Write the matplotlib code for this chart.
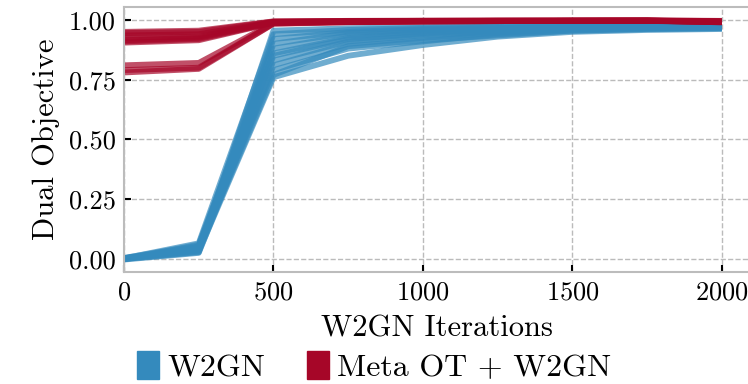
import matplotlib
matplotlib.use("Agg")
import matplotlib.pyplot as plt
from matplotlib.patches import Patch

plt.rcParams["font.family"] = "serif"
plt.rcParams["font.serif"] = ["cmr10"]
plt.rcParams["mathtext.fontset"] = "cm"
plt.rcParams["axes.formatter.use_mathtext"] = True

iters = [0, 250, 500, 750, 1000, 1250, 1500, 1750, 2000]

# dual objective of each W2GN run (one list per run)
w2gn_runs = [
    [0.000, 0.030, 0.760, 0.850, 0.895, 0.930, 0.950, 0.958, 0.962],
    [0.002, 0.040, 0.790, 0.880, 0.910, 0.940, 0.955, 0.962, 0.965],
    [-0.003, 0.025, 0.810, 0.900, 0.925, 0.945, 0.960, 0.965, 0.968],
    [0.004, 0.055, 0.830, 0.910, 0.935, 0.950, 0.962, 0.968, 0.970],
    [0.001, 0.045, 0.860, 0.925, 0.945, 0.958, 0.966, 0.970, 0.972],
    [-0.002, 0.060, 0.880, 0.935, 0.950, 0.962, 0.968, 0.972, 0.974],
    [0.003, 0.035, 0.900, 0.945, 0.958, 0.966, 0.971, 0.974, 0.976],
    [0.000, 0.050, 0.920, 0.950, 0.962, 0.969, 0.973, 0.976, 0.978],
    [0.002, 0.065, 0.940, 0.958, 0.967, 0.972, 0.975, 0.978, 0.980],
    [-0.001, 0.028, 0.955, 0.965, 0.970, 0.975, 0.978, 0.980, 0.982],
    [0.001, 0.048, 0.850, 0.920, 0.940, 0.955, 0.964, 0.968, 0.970],
    [0.000, 0.038, 0.770, 0.890, 0.915, 0.935, 0.955, 0.962, 0.966],
]

# dual objective of each Meta OT + W2GN run
meta_runs = [
    [0.905, 0.915, 0.988, 0.992, 0.994, 0.995, 0.996, 0.996, 0.993],
    [0.915, 0.925, 0.990, 0.993, 0.995, 0.996, 0.996, 0.997, 0.994],
    [0.925, 0.930, 0.991, 0.994, 0.995, 0.996, 0.997, 0.997, 0.992],
    [0.935, 0.940, 0.992, 0.995, 0.996, 0.997, 0.997, 0.997, 0.990],
    [0.945, 0.950, 0.993, 0.995, 0.996, 0.997, 0.997, 0.998, 0.995],
    [0.950, 0.955, 0.994, 0.996, 0.997, 0.997, 0.998, 0.998, 0.996],
    [0.910, 0.920, 0.989, 0.993, 0.995, 0.996, 0.996, 0.997, 0.991],
    [0.790, 0.800, 0.985, 0.991, 0.994, 0.995, 0.996, 0.996, 0.992],
    [0.810, 0.820, 0.987, 0.992, 0.994, 0.995, 0.996, 0.997, 0.993],
    [0.780, 0.795, 0.984, 0.990, 0.993, 0.995, 0.996, 0.996, 0.990],
]

blue = "#348ABD"
red = "#A60628"

fig = plt.figure(figsize=(7.48, 3.84), dpi=100)
ax = fig.add_axes([0.1658, 0.2917, 0.8372, 0.6888])

for run in w2gn_runs:
    ax.plot(iters, run, color=blue, lw=4.2, alpha=0.7, solid_capstyle="butt")
for run in meta_runs:
    ax.plot(iters, run, color=red, lw=4.2, alpha=0.7, solid_capstyle="butt")

ax.set_xlim(0, 2095)
ax.set_ylim(-0.055, 1.052)
ax.set_xticks([0, 500, 1000, 1500, 2000])
ax.set_yticks([0.0, 0.25, 0.5, 0.75, 1.0])
ax.set_yticklabels(["0.00", "0.25", "0.50", "0.75", "1.00"])
ax.tick_params(direction="in", length=5, width=1.5, labelsize=19, color="black", pad=6)
ax.grid(True, ls="--", color="#bbbbbb", lw=1)
ax.set_axisbelow(True)
for s in ax.spines.values():
    s.set_color("#bcbcbc")
    s.set_linewidth(1.5)

ax.set_xlabel("W2GN Iterations", fontsize=22, labelpad=8)
ax.set_ylabel("Dual Objective", fontsize=22, labelpad=6)

handles = [Patch(color=blue, label="W2GN"), Patch(color=red, label="Meta OT + W2GN")]
fig.legend(handles=handles, loc="lower center", bbox_to_anchor=(0.5, -0.07), ncol=2,
           frameon=False, fontsize=23, handlelength=0.7, handleheight=0.95,
           handletextpad=0.25, columnspacing=1.3)

fig.savefig("out.png", dpi=100)
